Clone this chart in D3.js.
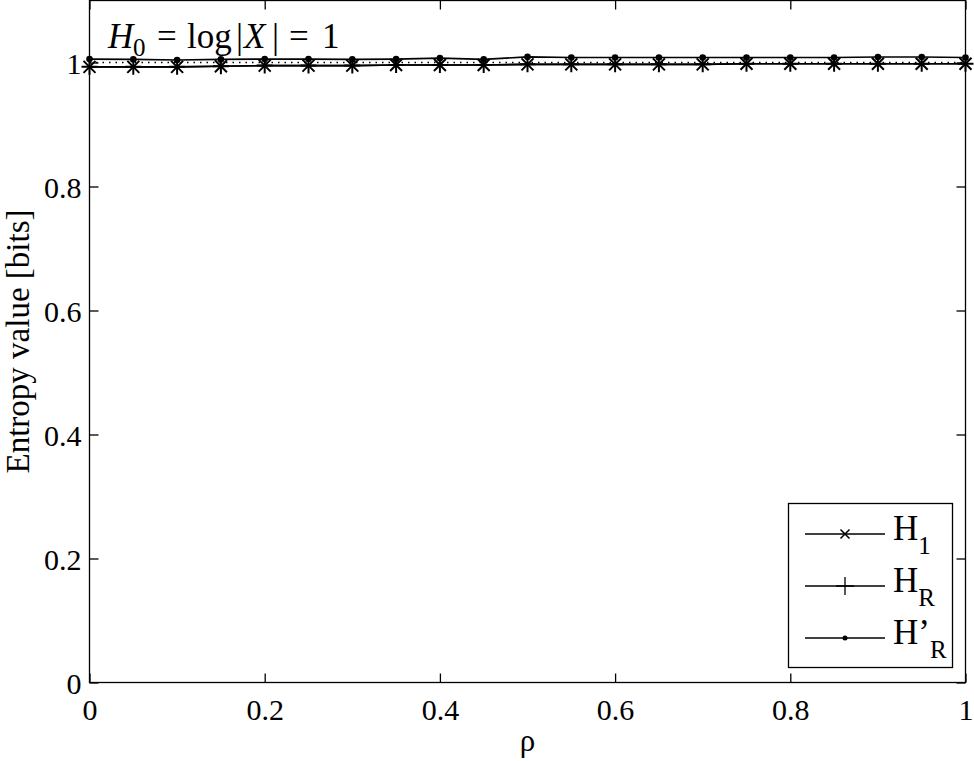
<!DOCTYPE html>
<html><head><meta charset="utf-8">
<script src="https://cdn.jsdelivr.net/npm/d3@7"></script>
<style>body{margin:0;background:#fff}svg{display:block}text{font-family:"Liberation Serif","Times New Roman",serif;fill:#000}</style>
</head><body><svg id="c" width="974" height="761"></svg>
<script>
const rho = [0,0.05,0.1,0.15,0.2,0.25,0.3,0.35,0.4,0.45,0.5,0.55,0.6,0.65,0.7,0.75,0.8,0.85,0.9,0.95,1];
const H1  = [0.993,0.993,0.993,0.994,0.995,0.995,0.995,0.996,0.996,0.996,0.997,0.997,0.997,0.997,0.997,0.998,0.998,0.998,0.998,0.998,0.998];
const HR  = [0.993,0.993,0.993,0.994,0.995,0.995,0.995,0.996,0.996,0.996,0.997,0.997,0.997,0.997,0.997,0.998,0.998,0.998,0.998,0.998,0.998];
const HRp = [1.0055,1.005,1.004,1.005,1.0055,1.0055,1.005,1.0055,1.007,1.005,1.009,1.008,1.008,1.008,1.008,1.008,1.008,1.008,1.0088,1.0088,1.008];
const H0 = 1;
const xTicks = [0,0.2,0.4,0.6,0.8,1];
const yTicks = [0,0.2,0.4,0.6,0.8,1];
const xTickLabels = ["0","0.2","0.4","0.6","0.8","1"];
const yTickLabels = ["0","0.2","0.4","0.6","0.8","1"];
const legendNames = [["H","1"],["H","R"],["H’","R"]];

const svg = d3.select("#c");
const L=89.5, R=965.5, T=0.5, B=682.5;
const x = d3.scaleLinear().domain([0,1]).range([L,R]);
const y = d3.scaleLinear().domain([0,1.1]).range([B,T]);
const tl = 9;

svg.append("rect").attr("x",L).attr("y",T).attr("width",R-L).attr("height",B-T)
  .attr("fill","none").attr("stroke","#000").attr("stroke-width",1.3);

const gx = svg.append("g").attr("transform",`translate(0,${B})`)
  .call(d3.axisBottom(x).tickValues(xTicks).tickFormat((d,i)=>xTickLabels[i]).tickSizeInner(-tl).tickSizeOuter(0).tickPadding(16));
const gxt = svg.append("g").attr("transform",`translate(0,${T})`)
  .call(d3.axisTop(x).tickValues(xTicks).tickFormat("").tickSizeInner(-tl).tickSizeOuter(0));
const gy = svg.append("g").attr("transform",`translate(${L},0)`)
  .call(d3.axisLeft(y).tickValues(yTicks).tickFormat((d,i)=>yTickLabels[i]).tickSizeInner(-tl).tickSizeOuter(0).tickPadding(8));
const gyr = svg.append("g").attr("transform",`translate(${R},0)`)
  .call(d3.axisRight(y).tickValues(yTicks).tickFormat("").tickSizeInner(-tl).tickSizeOuter(0));
[gx,gxt,gy,gyr].forEach(g=>{
  g.select(".domain").remove();
  g.selectAll("line").attr("stroke","#000").attr("stroke-width",1.3);
  g.selectAll("text").attr("font-size",30).attr("font-family","Liberation Serif");
});
gx.selectAll("text").attr("dy","0.7em");
gy.selectAll("text").attr("dy","0.35em");

svg.append("text").attr("x",(L+R)/2).attr("y",751).attr("text-anchor","middle")
  .attr("font-size",31).text("ρ");
svg.append("text").attr("transform",`translate(29,${(T+B)/2}) rotate(-90)`).attr("text-anchor","middle")
  .attr("font-size",33).text("Entropy value [bits]");

svg.append("line").attr("x1",x(0)).attr("x2",x(1)).attr("y1",y(H0)).attr("y2",y(H0))
  .attr("stroke","#000").attr("stroke-width",1.3).attr("stroke-dasharray","1.5,5");

const line = d3.line().x((d,i)=>x(rho[i])).y(d=>y(d));
[H1,HR,HRp].forEach(s=>{
  svg.append("path").attr("d",line(s)).attr("fill","none").attr("stroke","#000").attr("stroke-width",1.6);
});

function drawX(g,cx,cy,r,w){g.append("path").attr("d",`M${cx-r},${cy-r}L${cx+r},${cy+r}M${cx-r},${cy+r}L${cx+r},${cy-r}`).attr("stroke","#000").attr("stroke-width",w);}
function drawPlus(g,cx,cy,r,w){g.append("path").attr("d",`M${cx-r},${cy}L${cx+r},${cy}M${cx},${cy-r}L${cx},${cy+r}`).attr("stroke","#000").attr("stroke-width",w);}
function drawDot(g,cx,cy,r){g.append("circle").attr("cx",cx).attr("cy",cy).attr("r",r).attr("fill","#000");}

const mk = svg.append("g");
H1.forEach((v,i)=>drawX(mk,x(rho[i]),y(v),6,2));
HR.forEach((v,i)=>drawPlus(mk,x(rho[i]),y(v),8,2));
HRp.forEach((v,i)=>drawDot(mk,x(rho[i]),y(v),3.3));

// annotation (LaTeX-like)
const ann = svg.append("text").attr("y",48).attr("font-size",35);
ann.append("tspan").attr("x",108).attr("font-style","italic").text("H");
ann.append("tspan").attr("x",133).attr("font-size",25).attr("dy",8).text("0");
ann.append("tspan").attr("x",157).attr("dy",-8).text("=");
ann.append("tspan").attr("x",187).text("log");
ann.append("tspan").attr("x",236).text("|");
ann.append("tspan").attr("x",244).attr("font-style","italic").text("X");
ann.append("tspan").attr("x",272).text("|");
ann.append("tspan").attr("x",289).text("=");
ann.append("tspan").attr("x",322).text("1");

// legend
const lg = svg.append("g");
lg.append("rect").attr("x",788.5).attr("y",503.5).attr("width",164).attr("height",164)
  .attr("fill","#fff").attr("stroke","#000").attr("stroke-width",1.3);
const rowsY = [534,586,638];
legendNames.forEach((nm,i)=>{
  const cy = rowsY[i];
  lg.append("line").attr("x1",805).attr("x2",885).attr("y1",cy).attr("y2",cy).attr("stroke","#000").attr("stroke-width",1.3);
  if(i===0) drawX(lg,845,cy,4.5,1.5);
  if(i===1) drawPlus(lg,845,cy,9,1.3);
  if(i===2) drawDot(lg,845,cy,2.5);
  const t = lg.append("text").attr("x",893).attr("y",cy+6).attr("font-size",35);
  t.append("tspan").text(nm[0]);
  t.append("tspan").attr("font-size",25).attr("dy",14).text(nm[1]);
});
</script></body></html>
